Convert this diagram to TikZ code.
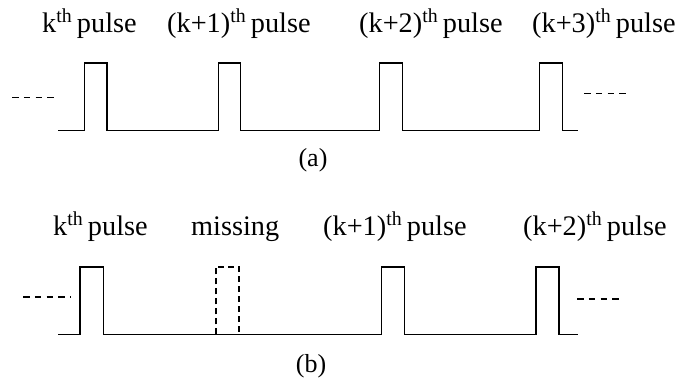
\documentclass[tikz,border=0pt]{standalone}
\usepackage{fontspec}
\setmainfont{Liberation Serif}
\begin{document}
\begin{tikzpicture}[x=1pt,y=-1pt,
  sig/.style={line width=1.6pt,line join=miter},
  gap/.style={sig,dash pattern=on 6.5pt off 5.3pt},
  lbl/.style={anchor=base west,inner sep=0pt,font=\fontsize{28.3}{33}\selectfont},
  captxt/.style={inner sep=0pt,font=\fontsize{26}{30}\selectfont}]
\useasboundingbox (0,0) rectangle (681,384);
% ---------- (a): regular pulse train ----------
\coordinate (a0) at (58,130.5);
\coordinate (a9) at (578,130.5);
\draw[sig] (a0) -- (84.3,130.5) -- (84.3,63) -- (107,63) -- (107,130.5)
  -- (218.3,130.5) -- (218.3,63) -- (240.3,63) -- (240.3,130.5)
  -- (379.3,130.5) -- (379.3,63) -- (402.3,63) -- (402.3,130.5)
  -- (539.3,130.5) -- (539.3,63) -- (562.3,63) -- (562.3,130.5) -- (a9);
\coordinate (al1) at (12,97.5);  \coordinate (al2) at (59,97.5);
\coordinate (ar1) at (584,93.5); \coordinate (ar2) at (630,93.5);
\draw[gap] (al1) -- (al2);
\draw[gap] (ar1) -- (ar2);
\node[lbl] (ta1) at (42,32) {k\textsuperscript{th}\,pulse};
\node[lbl] (ta2) at (167,32) {(k+1)\textsuperscript{th}\,pulse};
\node[lbl] (ta3) at (359,32) {(k+2)\textsuperscript{th}\,pulse};
\node[lbl] (ta4) at (532,32) {(k+3)\textsuperscript{th}\,pulse};
\node[captxt] (capa) at (313,160) {(a)};
% ---------- (b): pulse train with one pulse missing ----------
\coordinate (b0) at (58,334.3);
\coordinate (b9) at (578,334.3);
\draw[sig] (b0) -- (80,334.3) -- (80,266.7) -- (103.3,266.7) -- (103.3,334.3)
  -- (381.3,334.3) -- (381.3,266.7) -- (404.3,266.7) -- (404.3,334.3)
  -- (535.7,334.3) -- (535.7,266.7) -- (558.7,266.7) -- (558.7,334.3) -- (b9);
\draw[sig,dash pattern=on 6pt off 4pt] (216,334.3) -- (216,266.7) -- (238.7,266.7) -- (238.7,334.3);
\coordinate (bl1) at (23,297);    \coordinate (bl2) at (71,297);
\coordinate (br1) at (577,298.7); \coordinate (br2) at (623,298.7);
\draw[gap] (bl1) -- (bl2);
\draw[gap] (br1) -- (br2);
\node[lbl] (tb1) at (53,235) {k\textsuperscript{th}\,pulse};
\node[lbl] (tb2) at (191,235) {missing};
\node[lbl] (tb3) at (323,235) {(k+1)\textsuperscript{th}\,pulse};
\node[lbl] (tb4) at (523,235) {(k+2)\textsuperscript{th}\,pulse};
\node[captxt] (capb) at (311,366) {(b)};
\end{tikzpicture}
\end{document}
